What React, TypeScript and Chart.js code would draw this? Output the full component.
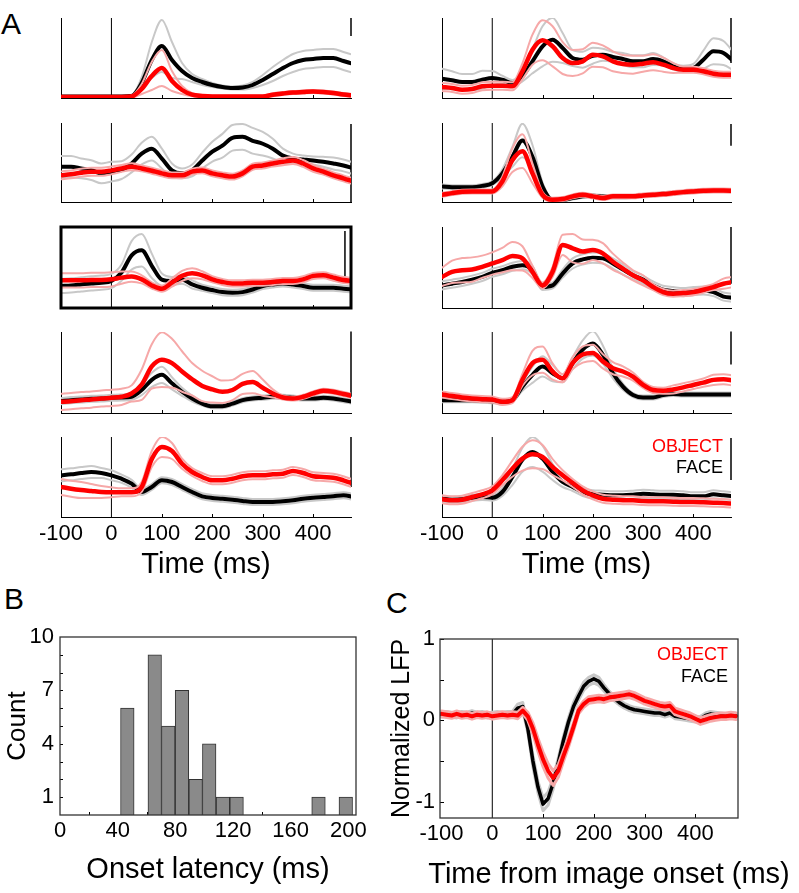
import React, { useEffect, useRef } from 'react';
import { Chart, registerables } from 'chart.js';

Chart.register(...registerables);

const FONT = "'Liberation Sans', Arial, Helvetica, sans-serif";

// ---------------- Panel A data (time in ms, amplitude in panel units 0..80) ----------------
const TIME_A = [-100, -80, -60, -40, -20, 0, 20, 40, 60, 80, 100, 120, 140, 160, 180, 200, 220, 240, 260, 280, 300, 320, 340, 360, 380, 400, 420, 440, 460, 480];
const TIME_TICKS_A = [-100, 0, 100, 200, 300, 400];
const INNER_TICKS_A = [100, 200, 300, 400];

const L1_FACE = [1.5, 1.5, 1.5, 1.5, 1.5, 1.5, 1.5, 2, 15, 38, 52, 38, 27, 20, 16, 13, 11, 10, 10.5, 13, 18, 24, 30, 35, 38, 39, 40, 40, 37, 34];
const L1_FACE_SE = [0.5, 0.5, 0.5, 0.5, 0.5, 0.5, 0.5, 1, 6, 18, 26, 18, 8, 4, 3, 2, 1.5, 1.5, 2, 3, 5, 7, 8, 9, 9, 9, 9, 9, 9, 9];
const L1_OBJ = [1, 1, 1, 1, 1, 1, 1, 1.5, 9, 22, 30, 17, 8, 3.3, 2, 1.5, 1.5, 1.5, 1.5, 1.5, 1.5, 3.3, 4.5, 5.5, 6, 6.5, 6, 5, 3.5, 2.5];
const L1_OBJ_SE = [0.5, 0.5, 0.5, 0.5, 0.5, 0.5, 0.5, 1, 5, 14, 18, 10, 4, 1.5, 1, 1, 1, 1, 1, 1, 1, 1.5, 1.5, 1.5, 1.5, 1.5, 1.5, 1.5, 1.5, 1.5];
const L1_BAR = [62, 80];

const L2_FACE = [35.7, 35.7, 34, 32.3, 29, 30.7, 32.3, 39, 49, 54, 44, 32, 29, 32, 42, 51, 57, 65, 66, 62, 59, 54, 47, 44, 43, 42, 40.7, 39, 37, 34];
const L2_FACE_SE = [11, 11, 10, 10, 10, 10, 9, 9, 11, 12, 10, 7, 5, 6, 8, 10, 12, 13, 13, 13, 12, 10, 7, 5, 4, 4, 5, 6, 6, 6];
const L2_OBJ = [27, 28, 29.7, 30.7, 30.7, 32, 34, 35.7, 34, 31.7, 29, 27, 27, 30.7, 32, 29, 27, 25.7, 29, 35.7, 37, 39, 40.7, 42, 39, 34, 30.7, 27, 24, 20.7];
const L2_OBJ_SE = [4, 4, 4, 4, 4, 4, 3.5, 3.5, 3, 3, 3, 3, 3, 3, 3, 3, 3, 3, 3, 3, 3, 3, 3.5, 3.5, 3.5, 3.5, 3, 3, 3, 3];
const L2_BAR = [0, 79];

const L3_FACE = [21.7, 22.3, 23.3, 24.3, 25, 26.7, 35, 52, 57, 41.7, 28, 26.7, 28, 23.3, 20, 17.7, 15.7, 15, 15.7, 18.3, 21.7, 23.3, 24.3, 23.3, 21.7, 20, 20, 20, 19, 18.3];
const L3_FACE_SE = [7, 7, 7, 7, 7, 7, 8, 14, 16, 12, 6, 4, 4, 4, 3, 3, 3, 3, 3, 3, 3, 3, 3, 3, 3, 3, 3, 3, 3, 3];
const L3_OBJ = [27.3, 27.3, 27.3, 27.7, 27.7, 28.3, 30, 31, 28.3, 22.3, 19, 25, 31.7, 34.3, 32.3, 28.3, 25.7, 24.3, 24.3, 25, 25, 25.7, 26.7, 26.7, 28.3, 31.7, 32.3, 30, 27.7, 26.7];
const L3_OBJ_SE = [7, 7, 7, 7, 7, 7, 6, 5, 4, 3, 3, 4, 5, 5, 4, 3, 3, 3, 3, 3, 3, 3, 3, 3, 3, 3, 3, 3, 3, 3];
const L3_BAR = [31, 76];

const L4_FACE = [11.7, 12.7, 13.3, 14, 14.3, 15, 15.3, 16, 22.7, 32.7, 37.7, 29.3, 21, 14.3, 9.3, 6.7, 6.7, 9.3, 12.7, 14.3, 15, 16, 16, 15.3, 14.3, 14.3, 15, 14.3, 12.7, 11];
const L4_FACE_SE = [3, 3, 3, 3, 3, 3, 3, 3, 5, 7, 8, 6, 4, 3, 2, 2, 2, 2, 2, 2, 2, 2, 2, 2, 2, 2, 2, 2, 2, 2];
const L4_OBJ = [11, 11.7, 12.7, 13.3, 14.3, 15, 16, 19.3, 28, 46, 52.7, 49.3, 41, 33.3, 26.7, 23.3, 21, 22.7, 28.7, 30.5, 25, 19.3, 15.3, 14.3, 16, 19.3, 22, 21, 18.7, 16.7];
const L4_OBJ_SE = [8, 8, 8, 8, 8, 8, 8, 8, 15, 22, 27, 24, 20, 16, 15, 13, 11, 10, 10, 11, 8, 4, 2, 2, 2, 2, 2, 2, 2, 2];
const L4_BAR = [16, 80.5];

const L5_FACE = [41.7, 42.7, 44, 45, 44, 41.7, 38.3, 33.3, 25, 30, 36.7, 35, 30, 25, 20.7, 19, 18.3, 17.3, 16, 15, 15, 15, 15.7, 16.7, 18.3, 19.3, 20, 20.7, 21.7, 20];
const L5_FACE_SE = [6, 6, 6, 6, 5, 5, 4, 4, 3, 3, 3, 3, 3, 3, 3, 3, 3, 3, 3, 3, 3, 3, 3, 3, 3, 3, 3, 3, 3, 3];
const L5_OBJ = [30, 28.3, 27, 26, 25, 24.7, 24.7, 24.7, 30, 58, 70, 66, 53.3, 45, 40, 36.7, 36.7, 38.3, 40.7, 41.7, 41.7, 42.7, 43.3, 46, 44, 40.7, 40, 39.3, 36.7, 33.3];
const L5_OBJ_SE = [8, 8, 8, 7, 6, 5, 4, 4, 5, 8, 10, 8, 5, 4, 4, 4, 4, 4, 4, 4, 4, 4, 4, 4, 4, 4, 4, 4, 4, 4];
const L5_BAR = [30, 80];

const R1_FACE = [19.3, 17.7, 16, 16, 18.3, 20, 18.3, 15, 21.7, 36.7, 51.7, 58.3, 50, 40, 38.3, 42.3, 43.3, 41, 39, 36.7, 36.7, 39, 36.7, 31.7, 29.3, 30, 38.3, 46.7, 45, 36.7];
const R1_FACE_SE = [10, 9, 8, 8, 9, 7, 4, 3, 5, 12, 20, 22, 15, 8, 8, 8, 6, 5, 6, 6, 6, 6, 4, 3, 3, 4, 9, 13, 12, 9];
const R1_OBJ = [11, 10, 8.3, 9, 11.7, 12.3, 12.3, 11.7, 26.7, 48.3, 57.7, 51.7, 40, 35, 36.7, 43.3, 41.7, 36.7, 34, 33.3, 34.3, 35.7, 33.3, 30, 28.3, 28.3, 26.7, 24.3, 23.3, 23.3];
const R1_OBJ_SE = [4, 4, 4, 4, 4, 4, 4, 4, 8, 15, 20, 20, 16, 13, 12, 12, 11, 10, 9, 9, 8, 8, 7, 5, 3, 3, 3, 3, 3, 3];
const R1_BAR = [35, 80];

const R2_FACE = [15.7, 15, 15, 15, 16.3, 19, 29, 45.7, 62.3, 45.7, 15.7, 2.3, 2.3, 4, 5.7, 6.3, 5.7, 5, 5, 5.7, 6.3, 7.3, 8.3, 9, 9.7, 10.7, 11.3, 11.7, 11.7, 11.7];
const R2_FACE_SE = [2, 2, 2, 2, 2, 2, 4, 10, 17, 12, 4, 1.5, 1.5, 1.5, 1.5, 1.5, 1.5, 1.5, 1.5, 1.5, 1.5, 1.5, 1.5, 1.5, 1.5, 1.5, 1.5, 1.5, 1.5, 1.5];
const R2_OBJ = [7.3, 9, 10.3, 10.7, 10.7, 10.7, 20.7, 42.3, 51.5, 29, 7.3, 2.3, 3, 5.7, 7.3, 5.7, 4, 5.7, 5.7, 5.7, 6.7, 7.3, 8, 9, 10, 10.7, 11.3, 11.7, 11.7, 11.3];
const R2_OBJ_SE = [2, 2, 2, 2, 2, 2, 5, 12, 17, 10, 3, 2, 2, 2, 2, 2, 2, 2, 2, 2, 2, 2, 2, 2, 2, 2, 2, 2, 2, 2];
const R2_BAR = [57, 79];

const R3_FACE = [22.3, 24, 25.7, 28, 30.7, 34.7, 37.3, 40.7, 42.3, 37.3, 20.7, 22.3, 34, 44, 48, 49.7, 49, 44, 38, 32.3, 28, 22.3, 18, 16.7, 15.7, 16.7, 17.3, 15.7, 11.3, 10];
const R3_FACE_SE = [4, 4, 4, 4, 4, 4, 4, 4, 4, 4, 3, 3, 4, 5, 5, 5, 5, 5, 5, 4, 4, 4, 4, 4, 4, 4, 4, 4, 4, 4];
const R3_OBJ = [30.7, 35.7, 37.3, 38, 40.7, 44, 47.3, 51.3, 49, 35.7, 22.3, 35.7, 62.3, 59, 55.7, 57.3, 54, 45.7, 39, 32.3, 27.3, 20.7, 15.7, 14, 14.7, 15.7, 18, 20.7, 24, 25.7];
const R3_OBJ_SE = [9, 11, 12, 12, 11, 11, 12, 14, 12, 6, 3, 5, 10, 14, 12, 10, 10, 8, 6, 5, 5, 3, 3, 3, 3, 3, 3, 3, 5, 5];
const R3_BAR = [24, 80];

const R4_FACE = [12.7, 12.7, 12.7, 12.7, 12, 11.7, 11, 12.7, 26, 37.7, 46, 39.3, 34.3, 49.3, 62.7, 68.7, 57.7, 39.3, 26, 17.7, 15.3, 15.3, 17.7, 18.7, 18.3, 18.3, 18.3, 18.3, 18.3, 18.3];
const R4_FACE_SE = [2, 2, 2, 2, 2, 2, 2, 2, 4, 8, 10, 8, 4, 6, 9, 12, 9, 5, 3, 2, 2, 2, 2, 2, 2, 2, 2, 2, 2, 2];
const R4_OBJ = [18.3, 16.7, 15.3, 14.3, 13.7, 13.3, 11, 12.7, 32.7, 49.3, 52.7, 41, 34.3, 49.3, 57.7, 59.3, 51, 44.3, 41, 36, 27.7, 22.7, 22, 23.3, 25.3, 27.7, 30, 32.7, 33.3, 32];
const R4_OBJ_SE = [3, 3, 3, 3, 3, 3, 3, 3, 6, 12, 13, 8, 4, 6, 8, 8, 7, 6, 5, 4, 3, 3, 3, 4, 4, 4, 4, 5, 5, 5];
const R4_BAR = [48, 80.5];

const R5_FACE = [18.3, 17.3, 17.7, 19.3, 20, 19.3, 25, 40, 57.3, 65, 58.3, 45, 35, 30, 25, 22.7, 22.3, 21.7, 21.7, 22.3, 23.3, 22.7, 22.3, 22.3, 21.7, 20.7, 20.7, 22.7, 21.7, 20.7];
const R5_FACE_SE = [3, 3, 3, 3, 3, 3, 4, 8, 12, 15, 13, 8, 5, 4, 4, 4, 4, 4, 4, 4, 4, 4, 4, 4, 4, 4, 4, 4, 4, 4];
const R5_OBJ = [17.7, 16.7, 17.3, 20, 22.7, 26.7, 36.7, 48.3, 58.3, 62.7, 60, 50, 41.7, 34, 26.7, 21.7, 18.3, 17.3, 16.7, 16.7, 16, 15.7, 15.7, 15.3, 15, 15, 14.7, 14.3, 14, 13.3];
const R5_OBJ_SE = [4, 4, 4, 4, 4, 4, 5, 8, 12, 14, 12, 8, 5, 4, 4, 4, 4, 4, 4, 4, 4, 4, 4, 4, 4, 4, 4, 4, 4, 4];
const R5_BAR = [37, 79];

// time at which each panel's scale bar is drawn
const BAR_TIMES = [475, 475, 463, 475, 475, 475, 475, 475, 475, 475];

// ---------------- Panel B data ----------------
const LATENCY_BINS = [46.7, 56.2, 65.7, 75.1, 84.6, 94.1, 103.5, 113.0, 122.5, 131.9, 141.4, 150.9, 160.3, 169.8, 179.3, 188.8, 198.2];
const LATENCY_COUNTS = [6, 0, 9, 5, 7, 2, 4, 1, 1, 0, 0, 0, 0, 0, 1, 0, 1];
const COUNT_TICKS = [1, 4, 7, 10];
const COUNT_INNER_TICKS = [1, 2, 3, 4, 5, 6, 7, 8, 9];
const LATENCY_TICKS = [0, 40, 80, 120, 160, 200];
const LATENCY_INNER_TICKS = [20, 60, 100, 140, 180];

// ---------------- Panel C data ----------------
const TIME_C = [-100, -90, -80, -70, -60, -50, -40, -30, -20, -10, 0, 10, 20, 30, 40, 50, 60, 70, 80, 90, 100, 110, 120, 130, 140, 150, 160, 170, 180, 190, 200, 210, 220, 230, 240, 250, 260, 270, 280, 290, 300, 310, 320, 330, 340, 350, 360, 370, 380, 390, 400, 410, 420, 430, 440, 450, 460, 470, 480];
const C_FACE = [0.07, 0.08, 0.07, 0.06, 0.08, 0.07, 0.09, 0.07, 0.08, 0.06, 0.07, 0.08, 0.07, 0.08, 0.08, 0.15, 0.17, -0.1, -0.5, -0.82, -1.03, -0.96, -0.77, -0.52, -0.25, -0.02, 0.17, 0.3, 0.42, 0.48, 0.51, 0.48, 0.4, 0.33, 0.27, 0.22, 0.18, 0.15, 0.13, 0.12, 0.11, 0.1, 0.09, 0.09, 0.07, 0.09, 0.05, 0.04, 0.03, 0.02, 0.01, 0.02, 0.06, 0.08, 0.07, 0.06, 0.05, 0.06, 0.06];
const C_FACE_SE = [0.03, 0.03, 0.03, 0.03, 0.03, 0.03, 0.03, 0.03, 0.03, 0.03, 0.03, 0.03, 0.03, 0.03, 0.03, 0.05, 0.05, 0.05, 0.07, 0.07, 0.08, 0.08, 0.07, 0.06, 0.05, 0.05, 0.05, 0.05, 0.05, 0.05, 0.05, 0.05, 0.04, 0.03, 0.03, 0.03, 0.03, 0.03, 0.03, 0.03, 0.03, 0.03, 0.03, 0.03, 0.03, 0.03, 0.03, 0.03, 0.03, 0.03, 0.03, 0.03, 0.03, 0.03, 0.03, 0.03, 0.03, 0.03, 0.03];
const C_OBJ = [0.08, 0.07, 0.06, 0.08, 0.06, 0.07, 0.05, 0.07, 0.06, 0.07, 0.05, 0.06, 0.07, 0.06, 0.07, 0.06, 0.12, 0.05, -0.1, -0.3, -0.48, -0.62, -0.71, -0.62, -0.44, -0.27, -0.08, 0.12, 0.2, 0.25, 0.26, 0.27, 0.26, 0.28, 0.29, 0.3, 0.31, 0.32, 0.3, 0.27, 0.24, 0.22, 0.2, 0.18, 0.17, 0.18, 0.11, 0.09, 0.07, 0.05, 0.02, -0.01, 0.01, 0.03, 0.04, 0.05, 0.05, 0.06, 0.05];
const C_OBJ_SE = [0.035, 0.035, 0.035, 0.035, 0.035, 0.035, 0.035, 0.035, 0.035, 0.035, 0.035, 0.035, 0.035, 0.035, 0.035, 0.04, 0.04, 0.05, 0.07, 0.08, 0.09, 0.09, 0.09, 0.08, 0.07, 0.06, 0.05, 0.04, 0.04, 0.04, 0.04, 0.04, 0.04, 0.04, 0.04, 0.04, 0.04, 0.04, 0.04, 0.04, 0.04, 0.04, 0.04, 0.04, 0.04, 0.04, 0.04, 0.04, 0.04, 0.04, 0.04, 0.04, 0.04, 0.04, 0.04, 0.04, 0.04, 0.04, 0.04];
const C_Y_TICKS = [-1, -0.5, 0, 0.5, 1];
const C_X_TICKS = [-100, 0, 100, 200, 300, 400];
const C_INNER_X = [100, 200, 300, 400];

// ---------------- styles ----------------
const RED = 'rgb(255,0,0)';
const PINK = 'rgb(246,168,168)';
const GRAY = 'rgb(200,200,200)';
const BLACK = '#000';

const decorPlugin = {
  id: 'decor',
  beforeDatasetsDraw(chart: any, _a: any, opts: any) {
    const { ctx, chartArea: a, scales } = chart;
    ctx.save();
    ctx.strokeStyle = '#000';
    ctx.lineWidth = 1;
    const len = opts.tickLen || 3;
    (opts.xTicks || []).forEach((v: number) => {
      const px = Math.round(scales.x.getPixelForValue(v)) + 0.5;
      ctx.beginPath();
      ctx.moveTo(px, a.bottom);
      ctx.lineTo(px, a.bottom - len);
      ctx.stroke();
    });
    (opts.yTicks || []).forEach((v: number) => {
      const py = Math.round(scales.y.getPixelForValue(v)) + 0.5;
      ctx.beginPath();
      ctx.moveTo(a.left, py);
      ctx.lineTo(a.left + len, py);
      ctx.stroke();
    });
    ctx.restore();
  },
  afterDatasetsDraw(chart: any, _a: any, opts: any) {
    if (!opts.frame) return;
    const { ctx, chartArea: a } = chart;
    ctx.save();
    ctx.strokeStyle = opts.frameColor || '#000';
    ctx.lineWidth = opts.frameWidth || 1;
    ctx.strokeRect(a.left, a.top, a.right - a.left, a.bottom - a.top);
    ctx.restore();
  },
};

const toPts = (xs: number[], ys: number[]) => xs.map((x, i) => ({ x, y: ys[i] }));
const addSE = (m: number[], s: number[], k: number) => m.map((v, i) => v + k * s[i]);

function curve(data: any[], color: string, width: number, smooth: boolean) {
  return {
    data,
    borderColor: color,
    borderWidth: width,
    pointRadius: 0,
    fill: false,
    cubicInterpolationMode: smooth ? 'monotone' : 'default',
    tension: 0,
    borderCapStyle: 'round',
    borderJoinStyle: 'round',
  };
}

function segment(data: any[], width: number) {
  return { data, borderColor: BLACK, borderWidth: width, pointRadius: 0, fill: false, tension: 0, clip: false };
}

const COL_X = [[61, 351], [442, 731]];
const ROW_Y = [[18, 98], [123, 202], [227, 308], [332, 413], [437, 517]];

const PANELS_A = [
  { face: L1_FACE, faceSE: L1_FACE_SE, obj: L1_OBJ, objSE: L1_OBJ_SE, bar: L1_BAR, col: 0, row: 0 },
  { face: L2_FACE, faceSE: L2_FACE_SE, obj: L2_OBJ, objSE: L2_OBJ_SE, bar: L2_BAR, col: 0, row: 1 },
  { face: L3_FACE, faceSE: L3_FACE_SE, obj: L3_OBJ, objSE: L3_OBJ_SE, bar: L3_BAR, col: 0, row: 2, boxed: true },
  { face: L4_FACE, faceSE: L4_FACE_SE, obj: L4_OBJ, objSE: L4_OBJ_SE, bar: L4_BAR, col: 0, row: 3 },
  { face: L5_FACE, faceSE: L5_FACE_SE, obj: L5_OBJ, objSE: L5_OBJ_SE, bar: L5_BAR, col: 0, row: 4 },
  { face: R1_FACE, faceSE: R1_FACE_SE, obj: R1_OBJ, objSE: R1_OBJ_SE, bar: R1_BAR, col: 1, row: 0 },
  { face: R2_FACE, faceSE: R2_FACE_SE, obj: R2_OBJ, objSE: R2_OBJ_SE, bar: R2_BAR, col: 1, row: 1 },
  { face: R3_FACE, faceSE: R3_FACE_SE, obj: R3_OBJ, objSE: R3_OBJ_SE, bar: R3_BAR, col: 1, row: 2 },
  { face: R4_FACE, faceSE: R4_FACE_SE, obj: R4_OBJ, objSE: R4_OBJ_SE, bar: R4_BAR, col: 1, row: 3 },
  { face: R5_FACE, faceSE: R5_FACE_SE, obj: R5_OBJ, objSE: R5_OBJ_SE, bar: R5_BAR, col: 1, row: 4 },
];

const PAD_X = 30;
const PAD_Y = 4;
const X_AXIS_H = 69;

function panelAConfig(p: any, idx: number) {
  const bottom = p.row === 4;
  const boxed = !!p.boxed;
  const datasets = [
    curve(toPts(TIME_A, p.obj), RED, 4.5, true),
    curve(toPts(TIME_A, addSE(p.obj, p.objSE, 1)), PINK, 2, true),
    curve(toPts(TIME_A, addSE(p.obj, p.objSE, -1)), PINK, 2, true),
    curve(toPts(TIME_A, p.face), BLACK, 4, true),
    curve(toPts(TIME_A, addSE(p.face, p.faceSE, 1)), GRAY, 2, true),
    curve(toPts(TIME_A, addSE(p.face, p.faceSE, -1)), GRAY, 2, true),
    segment([{ x: 0, y: 0 }, { x: 0, y: 80 }], 1),
    segment([{ x: BAR_TIMES[idx], y: p.bar[0] }, { x: BAR_TIMES[idx], y: p.bar[1] }], 1.5),
  ];
  return {
    type: 'line',
    data: { datasets },
    plugins: [decorPlugin],
    options: {
      animation: false,
      responsive: false,
      events: [],
      layout: { padding: { left: PAD_X, right: PAD_X, top: PAD_Y, bottom: bottom ? 0 : PAD_Y } },
      plugins: {
        legend: { display: false },
        tooltip: { enabled: false },
        decor: { xTicks: INNER_TICKS_A, tickLen: 3, frame: boxed, frameWidth: 3, frameColor: '#000' },
      },
      scales: {
        x: {
          type: 'linear',
          min: -100,
          max: 475,
          afterFit: (s: any) => { s.height = bottom ? X_AXIS_H : 0; },
          afterBuildTicks: (s: any) => { s.ticks = TIME_TICKS_A.map((v) => ({ value: v })); },
          grid: { display: false, drawTicks: false },
          border: { display: !boxed, color: '#000', width: 1 },
          ticks: { display: bottom, color: '#000', font: { size: 22, family: FONT }, padding: 4, maxRotation: 0, autoSkip: false },
          title: { display: bottom, text: 'Time (ms)', color: '#000', font: { size: 29, family: FONT }, padding: { top: 0, bottom: 4 } },
        },
        y: {
          type: 'linear',
          min: 0,
          max: 80,
          afterFit: (s: any) => { s.width = 0; },
          grid: { display: false, drawTicks: false },
          border: { display: !boxed, color: '#000', width: 1 },
          ticks: { display: false },
        },
      },
    },
  };
}

function panelBConfig() {
  return {
    type: 'bar',
    data: {
      datasets: [{
        data: toPts(LATENCY_BINS, LATENCY_COUNTS),
        backgroundColor: 'rgb(138,138,138)',
        borderColor: 'rgb(50,50,50)',
        borderWidth: 1,
        barPercentage: 1,
        categoryPercentage: 1,
      }],
    },
    plugins: [decorPlugin],
    options: {
      animation: false,
      responsive: false,
      events: [],
      layout: { padding: { left: 0, right: 24, top: 22, bottom: 0 } },
      plugins: {
        legend: { display: false },
        tooltip: { enabled: false },
        decor: { xTicks: LATENCY_INNER_TICKS, yTicks: COUNT_INNER_TICKS, tickLen: 3, frame: true, frameWidth: 1.3, frameColor: '#333' },
      },
      scales: {
        x: {
          type: 'linear',
          offset: false,
          min: 0,
          max: 205.3,
          afterFit: (s: any) => { s.height = 78; },
          afterBuildTicks: (s: any) => { s.ticks = LATENCY_TICKS.map((v) => ({ value: v })); },
          grid: { display: false, drawTicks: false, offset: false },
          border: { display: false },
          ticks: { color: '#000', font: { size: 22, family: FONT }, padding: 3, maxRotation: 0, autoSkip: false },
          title: { display: true, text: 'Onset latency (ms)', color: '#000', font: { size: 29, family: FONT }, padding: { top: 0, bottom: 6 } },
        },
        y: {
          type: 'linear',
          min: 0,
          max: 10,
          afterFit: (s: any) => { s.width = 60; },
          afterBuildTicks: (s: any) => { s.ticks = COUNT_TICKS.map((v) => ({ value: v })); },
          grid: { display: false, drawTicks: false },
          border: { display: false },
          ticks: { color: '#000', font: { size: 22, family: FONT }, padding: 6 },
          title: { display: true, text: 'Count', color: '#000', font: { size: 26, family: FONT }, padding: { top: 2, bottom: 0 } },
        },
      },
    },
  };
}

function panelCConfig() {
  const datasets = [
    curve(toPts(TIME_C, C_OBJ), RED, 4, false),
    curve(toPts(TIME_C, addSE(C_OBJ, C_OBJ_SE, 1)), PINK, 3, false),
    curve(toPts(TIME_C, addSE(C_OBJ, C_OBJ_SE, -1)), PINK, 3, false),
    curve(toPts(TIME_C, C_FACE), BLACK, 3.5, false),
    curve(toPts(TIME_C, addSE(C_FACE, C_FACE_SE, 1)), GRAY, 3, false),
    curve(toPts(TIME_C, addSE(C_FACE, C_FACE_SE, -1)), GRAY, 3, false),
    segment([{ x: 0, y: -1.2 }, { x: 0, y: 1.0 }], 1),
  ];
  return {
    type: 'line',
    data: { datasets },
    plugins: [decorPlugin],
    options: {
      animation: false,
      responsive: false,
      events: [],
      layout: { padding: { left: 0, right: 61, top: 19, bottom: 0 } },
      plugins: {
        legend: { display: false },
        tooltip: { enabled: false },
        decor: { xTicks: C_INNER_X, yTicks: C_Y_TICKS, tickLen: 4, frame: true, frameWidth: 1.3, frameColor: '#333' },
      },
      scales: {
        x: {
          type: 'linear',
          min: -103,
          max: 484,
          afterFit: (s: any) => { s.height = 75; },
          afterBuildTicks: (s: any) => { s.ticks = C_X_TICKS.map((v) => ({ value: v })); },
          grid: { display: false, drawTicks: false },
          border: { display: false },
          ticks: { color: '#000', font: { size: 22, family: FONT }, padding: 3, maxRotation: 0, autoSkip: false },
          title: { display: false },
        },
        y: {
          type: 'linear',
          min: -1.2,
          max: 1.0,
          afterFit: (s: any) => { s.width = 60; },
          afterBuildTicks: (s: any) => { s.ticks = C_Y_TICKS.map((v) => ({ value: v })); },
          grid: { display: false, drawTicks: false },
          border: { display: false },
          ticks: {
            color: '#000',
            font: { size: 22, family: FONT },
            padding: 5,
            callback: (v: any) => (Math.abs(v) === 0.5 ? '' : String(v)),
          },
          title: { display: true, text: 'Normalized LFP', color: '#000', font: { size: 25, family: FONT }, padding: { top: 7, bottom: 0 } },
        },
      },
    },
  };
}

function ChartCanvas({ left, top, width, height, make }: { left: number; top: number; width: number; height: number; make: () => any }) {
  const ref = useRef<HTMLCanvasElement | null>(null);
  useEffect(() => {
    const chart = new Chart(ref.current as HTMLCanvasElement, make());
    return () => chart.destroy();
  }, []);
  return (
    <canvas
      ref={ref}
      width={width}
      height={height}
      style={{ position: 'absolute', left, top, width, height }}
    />
  );
}

function Label({ text, left, top, right, width, size, color, align }: { text: string; left?: number; top: number; right?: number; width?: number; size: number; color?: string; align?: 'left' | 'right' | 'center' }) {
  return (
    <div
      style={{
        position: 'absolute',
        left,
        right,
        top,
        width,
        fontFamily: FONT,
        fontSize: size,
        lineHeight: `${size}px`,
        color: color || '#000',
        whiteSpace: 'nowrap',
        textAlign: align || (right !== undefined ? 'right' : 'left'),
      }}
    >
      {text}
    </div>
  );
}

export default function App() {
  return (
    <div style={{ position: 'absolute', left: 0, top: 0, width: 799, height: 893, background: '#fff', overflow: 'hidden' }}>
      {PANELS_A.map((p, i) => {
        const [x0, x1] = COL_X[p.col];
        const [y0, y1] = ROW_Y[p.row];
        const bottom = p.row === 4;
        const w = x1 - x0 + 2 * PAD_X;
        const h = y1 - y0 + PAD_Y + (bottom ? X_AXIS_H : PAD_Y);
        return (
          <ChartCanvas key={i} left={x0 - PAD_X} top={y0 - PAD_Y} width={w} height={h} make={() => panelAConfig(p, i)} />
        );
      })}
      <ChartCanvas left={0} top={615} width={380} height={278} make={panelBConfig} />
      <ChartCanvas left={380} top={620} width={419} height={273} make={panelCConfig} />

      <Label text="A" left={1} top={9} size={30} />
      <Label text="B" left={4} top={584} size={30} />
      <Label text="C" left={386} top={588} size={30} />

      <Label text="OBJECT" right={76} top={437} size={18} color={RED} />
      <Label text="FACE" right={76} top={458} size={18} />
      <Label text="OBJECT" right={71} top={645} size={18} color={RED} />
      <Label text="FACE" right={71} top={667} size={18} />
      <Label text="Time from image onset (ms)" left={409} width={400} align="center" top={859} size={29} />
    </div>
  );
}
